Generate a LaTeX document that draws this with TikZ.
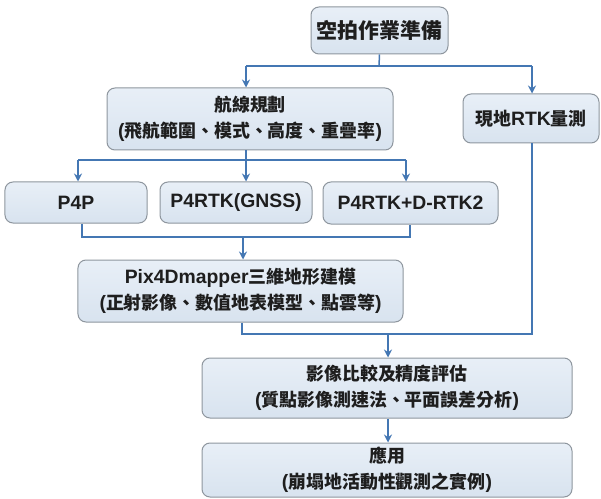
\documentclass[tikz,border=0pt]{standalone}
\usepackage{fontspec}
\setmainfont{Liberation Sans}[Scale=1.08]
\newfontfamily\cjkfont{Noto Sans CJK TC}
\usetikzlibrary{arrows.meta,calc}
\newcommand\zh[1]{{\cjkfont #1}}
\definecolor{boxtop}{HTML}{E8EFF7}
\definecolor{boxbot}{HTML}{D8E3EF}
\definecolor{boxline}{HTML}{8E969E}
\definecolor{linec}{HTML}{4477B3}
\definecolor{textc}{HTML}{1E1E1E}
\begin{document}
\begin{tikzpicture}[x=1bp,y=-1bp,
  box/.style={draw=boxline, top color=boxtop, bottom color=boxbot, rounded corners=8bp,
    line width=1bp, align=center, inner sep=0pt, text=textc,
    font=\fontsize{18}{26}\selectfont\bfseries},
  conn/.style={draw=linec, line width=1.5bp},
  arr/.style={conn, -{Stealth[length=8bp,width=8bp]}}]
\useasboundingbox (0,0) rectangle (601,499);

% boxes
\node[box, minimum width=137bp, minimum height=47bp, font=\fontsize{21}{26}\selectfont\bfseries] (top) at (379.5,30.5) {\zh{空拍作業準備}};
\node[box, minimum width=286bp, minimum height=62bp] (plan) at (250,119) {\zh{航線規劃}\\(\zh{飛航範圍、模式、高度、重疊率})};
\node[box, minimum width=136bp, minimum height=49bp] (rtk) at (531,118.5) {\zh{現地}RTK\zh{量測}};
\node[box, minimum width=142bp, minimum height=41bp] (p4p) at (76,202.5) {P4P};
\node[box, minimum width=152bp, minimum height=41bp] (gnss) at (236,202.5) {P4RTK(GNSS)};
\node[box, minimum width=175bp, minimum height=42bp] (drtk) at (410.5,203) {P4RTK+D-RTK2};
\node[box, minimum width=325bp, minimum height=62bp] (pix) at (240.5,291) {Pix4Dmapper\zh{三維地形建模}\\(\zh{正射影像、數值地表模型、點雲等})};
\node[box, minimum width=370bp, minimum height=60bp] (cmp) at (387,388) {\zh{影像比較及精度評估}\\(\zh{質點影像測速法、平面誤差分析})};
\node[box, minimum width=370bp, minimum height=54bp] (app) at (387,470) {\zh{應用}\\(\zh{崩塌地活動性觀測之實例})};

% junction coordinates
\coordinate (j1) at (379,66);
\coordinate (j1l) at (246,66);
\coordinate (j1r) at (532,66);
\coordinate (j2) at (246,160);
\coordinate (j2l) at (78,160);
\coordinate (j2r) at (406,160);
\coordinate (j3l) at (82,237);
\coordinate (j3m) at (243,237);
\coordinate (j3r) at (410,237);
\coordinate (j4l) at (242,334);
\coordinate (j4m) at (388,334);
\coordinate (j4r) at (532,334);

% connectors
\draw[conn] (top.south) -- (j1);
\draw[conn] (j1l) -- (j1r);
\draw[arr] (j1l) -- (j1l |- plan.north);
\draw[arr] (j1r) -- (j1r |- rtk.north);

\draw[conn] (j2 |- plan.south) -- (j2);
\draw[conn] (j2l) -- (j2r);
\draw[arr] (j2l) -- (j2l |- p4p.north);
\draw[arr] (j2) -- (j2 |- gnss.north);
\draw[arr] (j2r) -- (j2r |- drtk.north);

\draw[conn] (j3l |- p4p.south) -- (j3l) -- (j3r) -- (j3r |- drtk.south);
\draw[arr] (j3m) -- (j3m |- pix.north);

\draw[conn] (j4l |- pix.south) -- (j4l) -- (j4r) -- (j4r |- rtk.south);
\draw[arr] (j4m) -- (j4m |- cmp.north);
\draw[arr] (j4m |- cmp.south) -- (j4m |- app.north);
\end{tikzpicture}
\end{document}
